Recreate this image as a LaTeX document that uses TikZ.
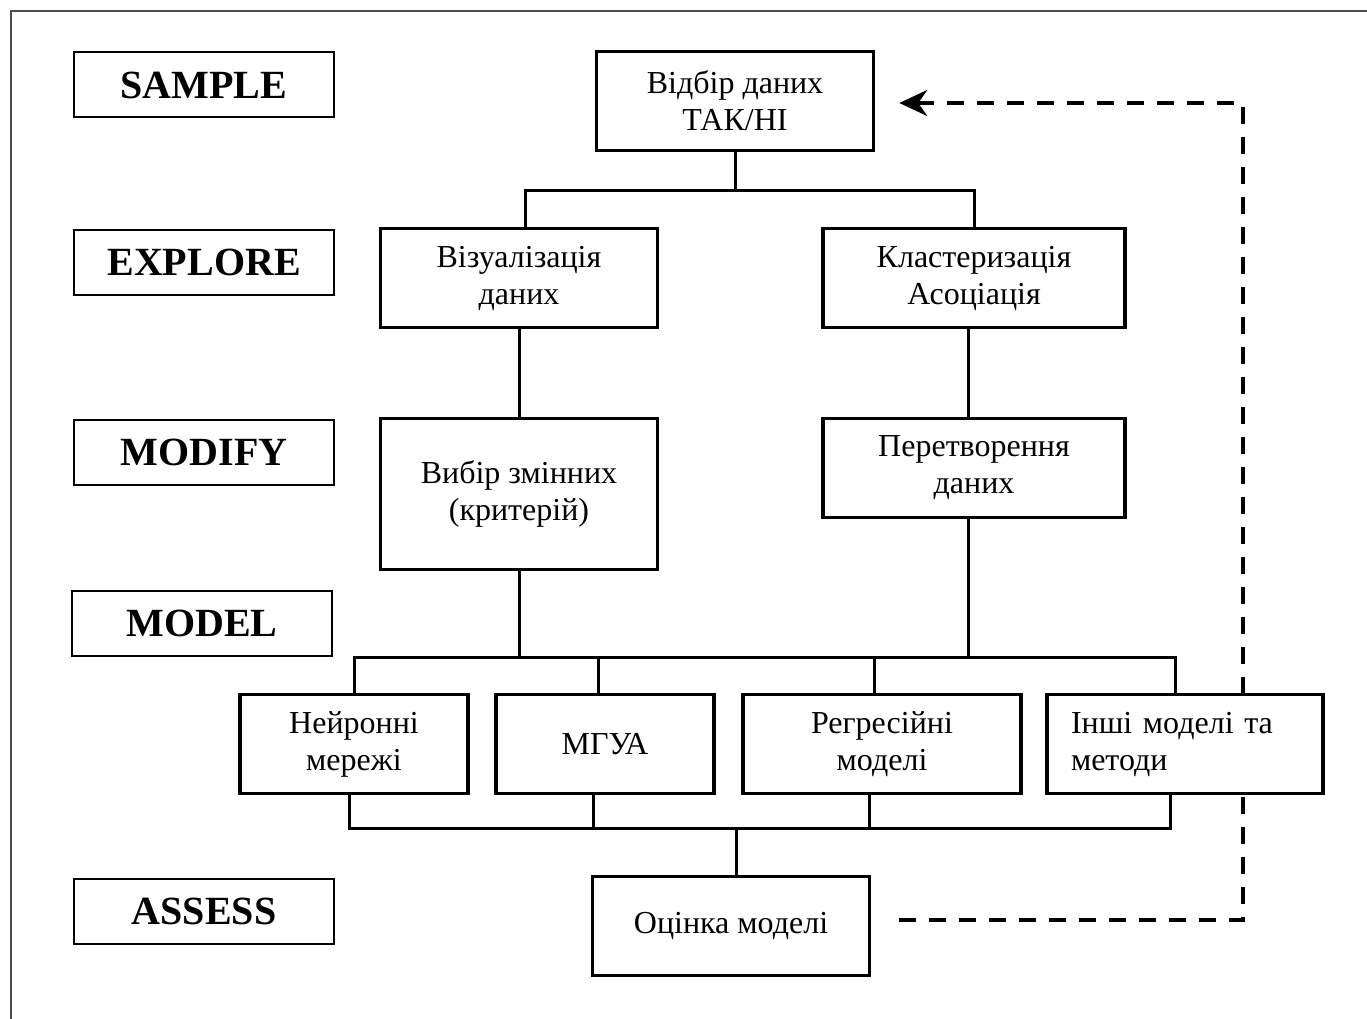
\documentclass[tikz,border=0pt]{standalone}
\usepackage{fontspec}
\setmainfont{Liberation Serif}
\usetikzlibrary{arrows.meta,backgrounds}
\tikzstyle{every path}=[line cap=butt, line join=miter]
\tikzstyle{stage}=[draw, line width=2pt, minimum width=260pt, minimum height=65pt, font=\fontsize{40}{44}\selectfont\bfseries]
\tikzstyle{block}=[draw, fill=white, line width=3.5pt, align=center, minimum height=99pt, font=\fontsize{32}{37}\selectfont]
\tikzstyle{link}=[line width=3pt]
\tikzstyle{feedback}=[line width=4pt, dash pattern=on 17pt off 13pt, -{Stealth[length=28pt,width=26pt,inset=9pt]}]

\begin{document}
\begin{tikzpicture}[x=1pt, y=-1pt]
  \useasboundingbox (0,0) rectangle (1367,1019);
  % Frame
  \draw[line width=2.5pt, black!70] (11,1019) -- (11,11) -- (1367,11);

  % Stages
  \node[stage] (sample) at (204,85) {SAMPLE};
  \node[stage] (explore) at (204,262) {EXPLORE};
  \node[stage] (modify) at (204,452) {MODIFY};
  \node[stage] (model) at (202,623) {MODEL};
  \node[stage] (assess) at (204,911) {ASSESS};

  % Blocks
  \node[block, minimum width=277pt] (vidbir) at (735,101) {Відбір даних\\ТАК/НІ};
  \node[block, minimum width=277pt] (vizual) at (519,278) {Візуалізація\\даних};
  \node[block, minimum width=302pt] (klaster) at (974,278) {Кластеризація\\Асоціація};
  \node[block, minimum width=277pt, minimum height=151pt] (vybir) at (519,494) {Вибір змінних\\(критерій)};
  \node[block, minimum width=302pt] (peretv) at (974,468) {Перетворення\\даних};
  \node[block, minimum width=228pt] (neiron) at (354,744) {Нейронні\\мережі};
  \node[block, minimum width=218pt] (mgua) at (605,744) {МГУА};
  \node[block, minimum width=278pt] (regres) at (882,744) {Регресійні\\моделі};
  \node[block, minimum width=276pt, align=left, text width=228pt] (inshi) at (1185,744) {Інші моделі та\\методи};
  \node[block, minimum width=277pt] (ocinka) at (731,926) {Оцінка моделі};

  % Explore level
  \draw[link] (vidbir.south) -- ++(0,38) coordinate (sbus);
  \draw[link] ([xshift=6pt]vizual.north) |- (sbus) -| (klaster.north);
  \draw[link] (vizual) -- (vybir);
  \draw[link] ([xshift=-6pt]klaster.south) -- ([xshift=-6pt]peretv.north);

  % Model bus
  \coordinate (mbus) at (0,657);
  \draw[link] (vybir.south) -- (vybir.south |- mbus);
  \draw[link] ([xshift=-6pt]peretv.south) -- ([xshift=-6pt]peretv.south |- mbus);
  \draw[link] (neiron.north) -- (neiron.north |- mbus) -- ([xshift=-10pt]inshi.north |- mbus) -- ([xshift=-10pt]inshi.north);
  \foreach \n/\d in {mgua/-7,regres/-8}
    \draw[link] ([xshift=\d pt]\n.north) -- ([xshift=\d pt]\n.north |- mbus);

  % Assess bus
  \coordinate (abus) at (0,828);
  \draw[link] ([xshift=-5pt]neiron.south) -- ([xshift=-5pt]neiron.south |- abus) -- ([xshift=-15pt]inshi.south |- abus) -- ([xshift=-15pt]inshi.south);
  \foreach \n/\d in {mgua/-12,regres/-13}
    \draw[link] ([xshift=\d pt]\n.south) -- ([xshift=\d pt]\n.south |- abus);
  \draw[link] ([xshift=5pt]ocinka.north) -- ([xshift=5pt]ocinka.north |- abus);

  % Feedback loop
  \coordinate (fb) at (1243,0);
  \begin{scope}[on background layer]
    \draw[feedback] ([xshift=28pt, yshift=6pt]ocinka.east) -- ([yshift=6pt]ocinka.east -| fb) -- ([yshift=-2pt]vidbir.east -| fb) -- ([xshift=24pt, yshift=-2pt]vidbir.east);
  \end{scope}
\end{tikzpicture}
\end{document}
